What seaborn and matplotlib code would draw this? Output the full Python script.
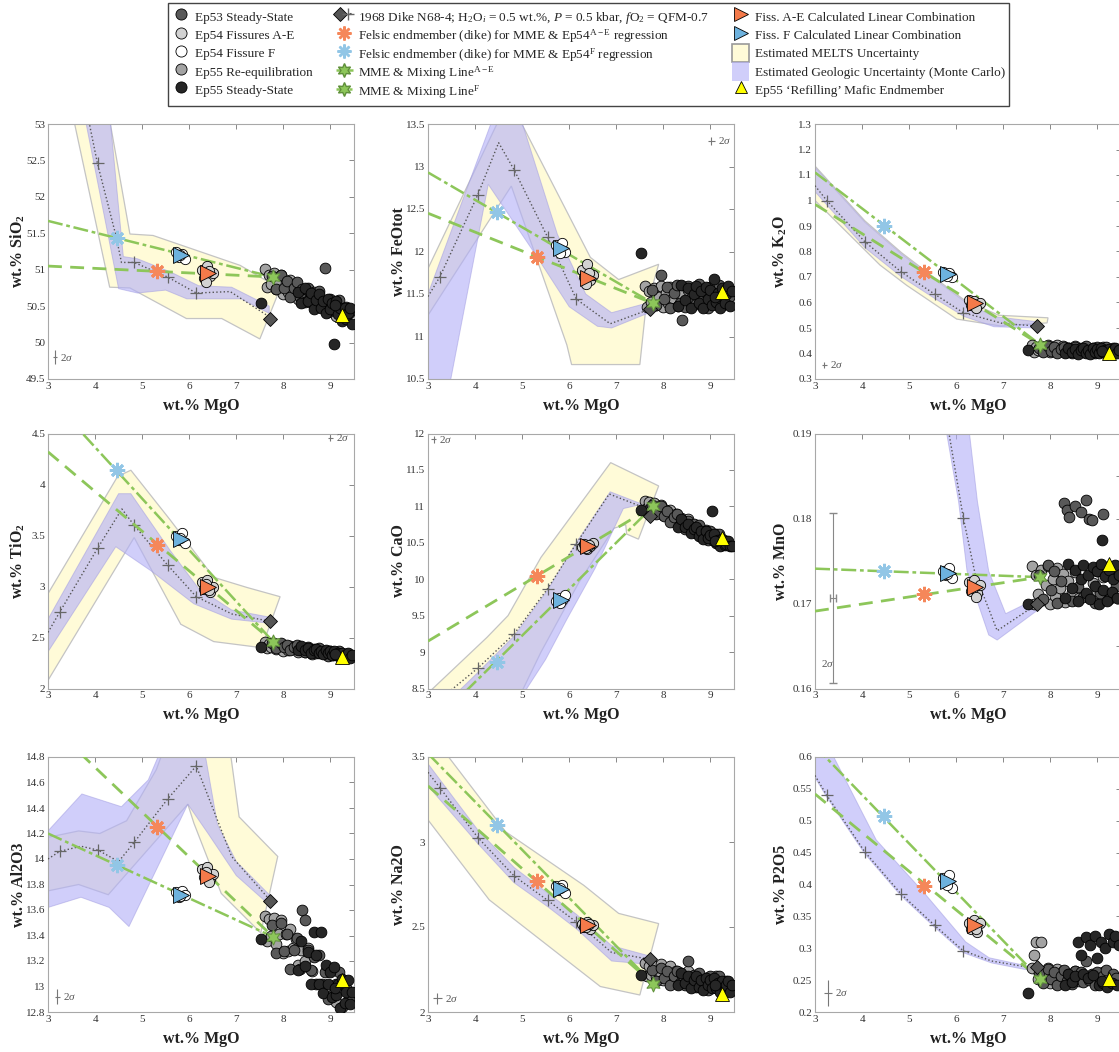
import matplotlib
matplotlib.use("Agg")
import matplotlib.pyplot as plt
from matplotlib.lines import Line2D
from matplotlib.patches import Patch
from matplotlib.legend_handler import HandlerTuple
from matplotlib.ticker import FuncFormatter
import seaborn as sns

# ---------------- panels ----------------
oxides = ["SiO2", "FeOtot", "K2O", "TiO2", "CaO", "MnO", "Al2O3", "Na2O", "P2O5"]
ylabels = [r"wt.% SiO$_\mathbf{2}$", "wt.% FeOtot", r"wt.% K$_\mathbf{2}$O",
           r"wt.% TiO$_\mathbf{2}$", "wt.% CaO", "wt.% MnO",
           "wt.% Al2O3", "wt.% Na2O", "wt.% P2O5"]
ylims = [(49.5, 53), (10.5, 13.5), (0.3, 1.3), (2, 4.5), (8.5, 12), (0.16, 0.19),
         (12.8, 14.8), (2, 3.5), (0.2, 0.6)]
ysteps = [0.5, 0.5, 0.1, 0.5, 0.5, 0.005, 0.2, 0.5, 0.05]
mgo_ticks = [3, 4, 5, 6, 7, 8, 9]

# ---------------- sample MgO (wt.%) ----------------
ep55r_mgo = [7.62, 7.66, 7.70, 7.74, 7.80, 7.84, 7.90, 7.95, 8.00, 8.05, 8.10, 8.15, 8.20, 8.26,
             8.32, 8.38, 8.45, 8.52, 8.60, 8.90, 9.00, 9.12]
ep53_mgo = [7.75, 7.85, 7.95, 8.02, 8.08, 8.15, 8.22, 8.28, 8.35, 8.40, 8.46, 8.52, 8.58, 8.64,
            8.70, 8.76, 8.82, 8.88, 8.94, 9.00, 9.06, 9.12, 9.18, 9.25, 9.32, 9.40]
ep55s_mgo = [7.52, 8.30, 8.38, 8.45, 8.52, 8.58, 8.64, 8.70, 8.76, 8.80, 8.85, 8.90, 8.95, 9.00,
             9.03, 9.08, 9.12, 9.16, 9.20, 9.25, 9.30, 9.34, 9.38, 9.42, 9.45, 9.10]
ep54ae_mgo = [6.27, 6.32, 6.38, 6.45, 6.5, 6.35, 6.42]
ep54f_mgo = [5.72, 5.78, 5.85, 5.9, 5.8]

# ---------------- sample oxides ----------------
ep55r = {
    "SiO2": [51.01, 50.76, 50.93, 50.80, 50.95, 50.74, 50.82, 50.93, 50.67, 50.82, 50.70, 50.86, 50.72, 50.79,
             50.60, 50.71, 50.62, 50.73, 50.55, 50.56, 50.48, 50.36],
    "FeOtot": [11.59, 11.35, 11.53, 11.41, 11.57, 11.37, 11.47, 11.59, 11.35, 11.51, 11.40, 11.58, 11.45, 11.54,
               11.36, 11.49, 11.42, 11.55, 11.39, 11.48, 11.43, 11.52],
    "K2O": [0.433, 0.407, 0.427, 0.414, 0.430, 0.410, 0.420, 0.433, 0.407, 0.424, 0.412, 0.432, 0.417, 0.428,
            0.408, 0.423, 0.415, 0.429, 0.411, 0.421, 0.416, 0.425],
    "TiO2": [2.46, 2.40, 2.435, 2.405, 2.444, 2.386, 2.41, 2.44, 2.37, 2.41, 2.382, 2.417, 2.384, 2.408,
             2.353, 2.386, 2.358, 2.391, 2.339, 2.343, 2.331, 2.342],
    "CaO": [11.08, 10.98, 11.06, 10.99, 11.05, 10.94, 10.97, 11.02, 10.88, 10.95, 10.87, 10.95, 10.87, 10.90,
            10.79, 10.84, 10.79, 10.82, 10.72, 10.68, 10.62, 10.62],
    "MnO": [0.1744, 0.1700, 0.1733, 0.1711, 0.1740, 0.1704, 0.1722, 0.1744, 0.1700, 0.1729, 0.1709, 0.1742,
            0.1718, 0.1735, 0.1702, 0.1726, 0.1713, 0.1737, 0.1707, 0.1724, 0.1715, 0.1731],
    "Al2O3": [13.55, 13.36, 13.53, 13.40, 13.54, 13.33, 13.41, 13.52, 13.26, 13.41, 13.28, 13.45, 13.30, 13.37,
              13.17, 13.29, 13.20, 13.30, 13.12, 13.12, 12.92, 12.88],
    "Na2O": [2.29, 2.21, 2.27, 2.22, 2.27, 2.21, 2.24, 2.28, 2.19, 2.24, 2.21, 2.27, 2.22, 2.24,
             2.18, 2.23, 2.20, 2.24, 2.18, 2.20, 2.18, 2.21],
    "P2O5": [0.269, 0.29, 0.31, 0.251, 0.31, 0.247, 0.257, 0.269, 0.245, 0.261, 0.250, 0.268, 0.255, 0.264,
             0.246, 0.259, 0.252, 0.265, 0.249, 0.258, 0.253, 0.262],
}
ep53 = {
    "SiO2": [50.92, 50.73, 50.93, 50.75, 50.85, 50.63, 50.75, 50.83, 50.63, 50.73, 50.56, 50.75, 50.62, 50.69,
             50.52, 50.71, 50.52, 51.02, 50.42, 50.60, 50.45, 50.51, 50.58, 50.35, 50.49, 50.40],
    "FeOtot": [11.55, 11.37, 11.72, 11.44, 11.58, 11.34, 11.51, 11.61, 11.40, 11.20, 11.35, 11.59, 11.45, 11.56,
               11.38, 11.62, 11.42, 11.52, 11.34, 11.58, 11.41, 11.51, 11.61, 11.37, 11.54, 11.47],
    "K2O": [0.422, 0.405, 0.428, 0.411, 0.424, 0.402, 0.418, 0.427, 0.407, 0.420, 0.403, 0.425, 0.412, 0.423,
            0.406, 0.428, 0.410, 0.419, 0.402, 0.424, 0.408, 0.418, 0.427, 0.405, 0.420, 0.414],
    "TiO2": [2.445, 2.40, 2.447, 2.404, 2.43, 2.374, 2.406, 2.423, 2.373, 2.40, 2.357, 2.404, 2.37, 2.39,
             2.347, 2.395, 2.349, 2.366, 2.323, 2.37, 2.33, 2.347, 2.364, 2.309, 2.34, 2.32],
    "CaO": [11.02, 10.89, 11.0, 10.87, 10.94, 10.78, 10.85, 10.89, 10.75, 10.81, 10.69, 10.80, 10.71, 10.76,
            10.63, 10.75, 10.62, 10.66, 10.54, 10.66, 10.54, 10.58, 10.62, 10.47, 10.53, 10.47],
    "MnO": [0.1734, 0.1705, 0.1745, 0.1716, 0.1738, 0.1701, 0.1727, 0.1818, 0.1810, 0.1802, 0.1703, 0.1815,
            0.1719, 0.1808, 0.1708, 0.1822, 0.1800, 0.1798, 0.1701, 0.1738, 0.1712, 0.1805, 0.1743, 0.1705,
            0.1732, 0.1721],
    "Al2O3": [13.48, 13.26, 13.50, 13.28, 13.41, 13.14, 13.29, 13.38, 13.14, 13.60, 13.52, 13.29, 13.13, 13.23,
              13.02, 13.25, 13.02, 13.11, 12.90, 13.14, 12.94, 13.02, 13.11, 12.84, 12.99, 12.90],
    "Na2O": [2.25, 2.18, 2.26, 2.20, 2.24, 2.16, 2.21, 2.24, 2.17, 2.22, 2.16, 2.30, 2.18, 2.22,
             2.15, 2.23, 2.16, 2.19, 2.13, 2.21, 2.15, 2.18, 2.21, 2.13, 2.18, 2.15],
    "P2O5": [0.261, 0.245, 0.267, 0.251, 0.263, 0.243, 0.257, 0.266, 0.248, 0.260, 0.244, 0.265, 0.253, 0.262,
             0.247, 0.280, 0.250, 0.259, 0.243, 0.263, 0.249, 0.257, 0.266, 0.245, 0.260, 0.254],
}
ep55s = {
    "SiO2": [50.54, 50.69, 50.55, 50.75, 50.57, 50.68, 50.46, 50.58, 50.66, 50.47, 50.57, 50.40, 50.60, 50.46,
             50.54, 49.98, 50.57, 50.39, 50.47, 50.30, 50.48, 50.33, 50.40, 50.48, 50.26, 50.51],
    "FeOtot": [11.98, 11.36, 11.61, 11.43, 11.57, 11.33, 11.50, 11.60, 11.39, 11.53, 11.34, 11.58, 11.44, 11.55,
               11.37, 11.68, 11.41, 11.51, 11.33, 11.57, 11.40, 11.50, 11.60, 11.36, 11.53, 11.46],
    "K2O": [0.415, 0.400, 0.423, 0.406, 0.419, 0.397, 0.413, 0.422, 0.402, 0.415, 0.398, 0.420, 0.407, 0.418,
            0.401, 0.423, 0.405, 0.414, 0.397, 0.419, 0.403, 0.413, 0.422, 0.400, 0.415, 0.409],
    "TiO2": [2.41, 2.375, 2.414, 2.377, 2.398, 2.351, 2.377, 2.391, 2.35, 2.372, 2.336, 2.376, 2.347, 2.364,
             2.329, 2.369, 2.331, 2.347, 2.311, 2.351, 2.317, 2.332, 2.347, 2.302, 2.33, 2.339],
    "CaO": [10.95, 10.72, 10.83, 10.72, 10.76, 10.63, 10.69, 10.72, 10.60, 10.66, 10.55, 10.66, 10.57, 10.61,
            10.93, 10.62, 10.50, 10.54, 10.46, 10.55, 10.47, 10.48, 10.52, 10.46, 10.46, 10.53],
    "MnO": [0.1700, 0.1707, 0.1747, 0.1718, 0.1740, 0.1703, 0.1729, 0.1745, 0.1712, 0.1734, 0.1705, 0.1743,
            0.1721, 0.1738, 0.1700, 0.1747, 0.1716, 0.1732, 0.1703, 0.1740, 0.1714, 0.1729, 0.1745, 0.1707,
            0.1734, 0.1775],
    "Al2O3": [13.37, 13.13, 13.36, 13.16, 13.27, 13.02, 13.43, 13.25, 13.02, 13.43, 12.95, 13.17, 13.02, 13.11,
              12.92, 13.15, 12.93, 13.02, 12.83, 13.06, 12.87, 12.96, 13.05, 12.86, 12.96, 12.99],
    "Na2O": [2.22, 2.16, 2.23, 2.17, 2.21, 2.14, 2.19, 2.21, 2.15, 2.19, 2.13, 2.20, 2.16, 2.19,
             2.14, 2.20, 2.14, 2.17, 2.12, 2.18, 2.13, 2.16, 2.18, 2.12, 2.16, 2.16],
    "P2O5": [0.23, 0.242, 0.26, 0.247, 0.257, 0.31, 0.29, 0.259, 0.318, 0.254, 0.305, 0.258, 0.32, 0.285,
             0.243, 0.31, 0.246, 0.30, 0.24, 0.322, 0.245, 0.31, 0.32, 0.242, 0.305, 0.249],
}
ep54ae = {
    "SiO2": [51.0, 50.88, 51.05, 50.92, 50.95, 50.83, 50.98],
    "FeOtot": [11.78, 11.7, 11.85, 11.66, 11.72, 11.62, 11.75],
    "K2O": [0.61, 0.59, 0.605, 0.585, 0.6, 0.595, 0.58],
    "TiO2": [3.04, 2.98, 3.06, 2.95, 3.0, 3.02, 2.97],
    "CaO": [10.44, 10.48, 10.42, 10.46, 10.5, 10.43, 10.47],
    "MnO": [0.1725, 0.1715, 0.1728, 0.1712, 0.1722, 0.1718, 0.1708],
    "Al2O3": [13.92, 13.86, 13.94, 13.84, 13.88, 13.9, 13.82],
    "Na2O": [2.52, 2.5, 2.53, 2.49, 2.51, 2.5, 2.52],
    "P2O5": [0.34, 0.33, 0.345, 0.325, 0.34, 0.335, 0.33],
}
ep54f = {
    "SiO2": [51.24, 51.18, 51.22, 51.15, 51.2],
    "FeOtot": [12.08, 12.02, 12.1, 12.0, 11.98],
    "K2O": [0.72, 0.71, 0.715, 0.7, 0.705],
    "TiO2": [3.5, 3.46, 3.52, 3.43, 3.48],
    "CaO": [9.7, 9.74, 9.72, 9.78, 9.68],
    "MnO": [0.1738, 0.1733, 0.1742, 0.173, 0.1735],
    "Al2O3": [13.74, 13.7, 13.75, 13.72, 13.71],
    "Na2O": [2.74, 2.72, 2.75, 2.7, 2.73],
    "P2O5": [0.41, 0.405, 0.415, 0.395, 0.4],
}

# ---------------- endmembers / model points ----------------
felsic_f_mgo, felsic_ae_mgo = 4.47, 5.32
calc_f_mgo, calc_ae_mgo = 5.82, 6.4
mme_mgo, dike_mgo, refill_mgo = 7.78, 7.71, 9.24
felsic_f = [51.43, 12.47, 0.90, 4.14, 8.87, 0.1738, 13.95, 3.098, 0.507]
felsic_ae = [50.98, 11.93, 0.72, 3.41, 10.05, 0.1711, 14.25, 2.77, 0.398]
calc_f = [51.2, 12.04, 0.713, 3.47, 9.72, 0.1736, 13.72, 2.726, 0.405]
calc_ae = [50.95, 11.69, 0.597, 3.0, 10.46, 0.1720, 13.87, 2.51, 0.336]
mme = [50.9, 11.39, 0.435, 2.46, 11.0, 0.1731, 13.39, 2.167, 0.252]
dike = [50.33, 11.32, 0.508, 2.66, 10.87, 0.1699, 13.67, 2.31, 0.27]
refill = [50.38, 11.52, 0.40, 2.31, 10.56, 0.1746, 13.05, 2.108, 0.252]
# mixing lines: value at MgO = 3 (left edge), running to the MME
mix_f_at3 = [51.67, 12.93, 1.11, 4.87, 7.95, 0.1741, 14.2, 3.52, 0.617]
mix_ae_at3 = [51.05, 12.45, 0.985, 4.32, 9.15, 0.1691, 15.07, 3.33, 0.542]

# ---------------- 1968 dike liquid line of descent ----------------
lld_mark_mgo = [3.25, 4.06, 4.83, 5.54, 6.15]
lld_x = {
    "SiO2": [3.25, 4.05, 4.45, 4.56, 4.83, 5.54, 6.15, 6.87, 7.71],
    "FeOtot": [3.0, 3.25, 4.06, 4.5, 4.83, 5.54, 6.15, 6.87, 7.71],
    "K2O": [3.0, 3.25, 4.06, 4.83, 5.54, 6.15, 7.0, 7.71],
    "TiO2": [3.0, 3.25, 4.06, 4.57, 4.83, 5.54, 6.15, 6.91, 7.71],
    "CaO": [3.25, 4.06, 4.83, 5.54, 6.15, 6.85, 7.6, 7.71],
    "MnO": [5.54, 6.15, 6.4, 6.87, 7.71],
    "Al2O3": [3.0, 3.25, 3.7, 4.06, 4.5, 4.83, 5.54, 6.15, 6.9, 7.71],
    "Na2O": [3.0, 3.25, 4.06, 4.83, 5.54, 6.15, 6.9, 7.71],
    "P2O5": [3.0, 3.25, 4.06, 4.83, 5.54, 6.15, 6.75, 7.71],
}
lld_y = {
    "SiO2": [55.0, 52.46, 51.45, 51.1, 51.1, 50.9, 50.68, 50.7, 50.35],
    "FeOtot": [11.47, 11.7, 12.67, 13.28, 12.96, 12.17, 11.44, 11.15, 11.32],
    "K2O": [1.058, 1.0, 0.838, 0.72, 0.633, 0.56, 0.517, 0.508],
    "TiO2": [2.55, 2.75, 3.38, 3.76, 3.6, 3.21, 2.9, 2.73, 2.66],
    "CaO": [8.35, 8.78, 9.25, 9.87, 10.49, 11.17, 10.98, 10.87],
    "MnO": [0.2, 0.1801, 0.1735, 0.1668, 0.1699],
    "Al2O3": [14.0, 14.06, 14.1, 14.07, 13.98, 14.13, 14.47, 14.73, 14.02, 13.68],
    "Na2O": [3.41, 3.32, 3.026, 2.80, 2.657, 2.53, 2.35, 2.31],
    "P2O5": [0.571, 0.54, 0.451, 0.385, 0.336, 0.296, 0.28, 0.268],
}
lld_marks = {
    "SiO2": [55.0, 52.46, 51.1, 50.9, 50.68],
    "FeOtot": [11.7, 12.67, 12.96, 12.17, 11.44],
    "K2O": [1.0, 0.838, 0.72, 0.633, 0.56],
    "TiO2": [2.75, 3.38, 3.6, 3.21, 2.9],
    "CaO": [8.35, 8.78, 9.25, 9.87, 10.49],
    "MnO": [0.26, 0.235, 0.215, 0.2, 0.1801],
    "Al2O3": [14.06, 14.07, 14.13, 14.47, 14.73],
    "Na2O": [3.32, 3.026, 2.80, 2.657, 2.53],
    "P2O5": [0.54, 0.451, 0.385, 0.336, 0.296],
}

# ---------------- uncertainty envelopes (outline vertices) ----------------
melts_x = {
    "SiO2": [3.5, 4.31, 4.74, 5.94, 6.69, 7.5, 7.93, 7.08, 5.23, 4.74, 4.27],
    "FeOtot": [3.0, 4.55, 4.9, 6.45, 7.05, 7.9, 7.62, 7.5, 6.05, 5.95, 4.77, 3.0],
    "K2O": [3.0, 4.06, 4.84, 5.55, 6.17, 6.9, 7.95, 7.93, 6.94, 6.01, 4.95, 4.38, 3.0],
    "TiO2": [3.0, 4.48, 4.76, 5.6, 6.52, 7.23, 7.93, 7.54, 6.52, 5.82, 4.83, 3.0],
    "CaO": [2.94, 4.25, 4.7, 5.4, 6.88, 7.9, 7.47, 7.22, 7.2, 6.95, 6.2, 5.4, 4.95],
    "Al2O3": [3.0, 3.65, 4.1, 4.67, 5.3, 5.5, 6.85, 7.06, 7.88, 7.52, 6.68, 6.1, 5.97, 4.28, 3.65, 3.0],
    "Na2O": [3.0, 3.3, 4.65, 6.31, 7.05, 7.9, 7.5, 6.66, 4.3, 3.0],
}
melts_y = {
    "SiO2": [53.2, 50.76, 50.75, 50.33, 50.33, 50.05, 50.74, 51.06, 51.47, 51.49, 53.2],
    "FeOtot": [11.8, 13.6, 13.6, 11.93, 11.67, 11.85, 11.3, 10.67, 10.67, 10.9, 12.77, 11.25],
    "K2O": [1.135, 0.92, 0.795, 0.695, 0.61, 0.55, 0.54, 0.52, 0.508, 0.535, 0.667, 0.747, 1.0],
    "TiO2": [2.93, 4.08, 4.14, 3.65, 3.09, 2.99, 2.9, 2.4, 2.46, 2.63, 3.48, 2.08],
    "CaO": [8.4, 9.2, 9.5, 10.3, 11.6, 11.28, 10.55, 10.62, 10.75, 10.7, 9.95, 9.0, 8.4],
    "Al2O3": [14.17, 14.22, 14.2, 14.3, 14.7, 14.9, 14.9, 14.33, 14.02, 13.42, 13.73, 14.28, 14.43, 13.72, 13.8, 13.75],
    "Na2O": [3.55, 3.55, 3.06, 2.745, 2.58, 2.52, 2.1, 2.15, 2.66, 3.13],
}
mc_x = {
    "SiO2": [3.75, 4.5, 4.9, 5.5, 5.95, 7.1, 7.7, 7.7, 6.9, 6.2, 5.6, 4.9, 4.6, 4.3],
    "FeOtot": [3.0, 3.45, 4.28, 5.3, 6.0, 6.6, 6.9, 7.7, 7.7, 6.9, 6.35, 5.75, 4.95, 4.4, 3.0],
    "K2O": [3.0, 4.06, 4.84, 5.55, 6.17, 6.8, 7.7, 7.7, 6.8, 6.17, 5.55, 4.84, 4.06, 3.0],
    "TiO2": [3.0, 3.0, 4.5, 4.76, 5.6, 6.2, 6.9, 7.7, 7.7, 6.9, 6.1, 5.2, 4.44],
    "CaO": [3.55, 4.06, 4.83, 5.54, 6.15, 6.87, 7.55, 7.15, 6.55, 5.95, 5.5, 5.0],
    "MnO": [5.75, 6.05, 6.23, 6.69, 6.87, 7.75, 7.75, 7.05, 6.69, 6.45, 6.25],
    "Al2O3": [3.0, 3.0, 3.72, 4.56, 5.13, 5.45, 6.3, 6.6, 7.0, 7.7, 7.7, 7.0, 6.4, 5.97, 4.72, 4.3, 3.7],
    "Na2O": [3.0, 4.06, 4.83, 5.54, 6.15, 6.9, 7.7, 7.7, 6.9, 6.15, 5.54, 4.83, 4.06, 3.0],
    "P2O5": [3.0, 3.26, 4.3, 5.34, 6.2, 6.7, 7.65, 7.65, 6.75, 6.15, 5.54, 4.83, 4.06, 3.25, 3.0],
}
mc_y = {
    "SiO2": [53.2, 50.74, 50.68, 50.72, 50.6, 50.6, 50.4, 50.5, 50.76, 50.78, 50.97, 51.15, 51.18, 53.2],
    "FeOtot": [10.4, 10.4, 12.79, 11.95, 11.35, 11.12, 11.1, 11.28, 11.4, 11.28, 11.5, 12.2, 13.6, 13.6, 11.5],
    "K2O": [1.13, 0.915, 0.79, 0.69, 0.605, 0.545, 0.525, 0.5, 0.505, 0.545, 0.615, 0.7, 0.815, 1.035],
    "TiO2": [2.36, 2.68, 3.91, 3.91, 3.35, 2.98, 2.77, 2.7, 2.64, 2.68, 2.83, 3.15, 3.39],
    "CaO": [8.4, 8.72, 9.22, 9.85, 10.5, 11.2, 11.03, 10.97, 10.15, 9.45, 8.9, 8.4],
    "MnO": [0.1915, 0.182, 0.1738, 0.1663, 0.1657, 0.1693, 0.1707, 0.1688, 0.1738, 0.182, 0.1915],
    "Al2O3": [13.62, 14.22, 14.51, 14.41, 14.62, 14.9, 14.9, 14.27, 13.98, 13.72, 13.64, 13.87, 14.2, 14.43, 13.47, 13.62, 13.7],
    "Na2O": [3.46, 3.07, 2.85, 2.7, 2.575, 2.39, 2.33, 2.28, 2.3, 2.49, 2.62, 2.76, 2.99, 3.33],
    "P2O5": [0.62, 0.62, 0.47, 0.385, 0.31, 0.285, 0.27, 0.264, 0.277, 0.293, 0.333, 0.382, 0.448, 0.537, 0.568],
}

# 2-sigma analytical error crosses: (MgO, oxide, MgO err, oxide err)
sigma = {
    "SiO2": (3.15, 49.8, 0.05, 0.1),
    "FeOtot": (9.02, 13.3, 0.08, 0.05),
    "K2O": (3.2, 0.355, 0.06, 0.01),
    "TiO2": (9.0, 4.46, 0.06, 0.03),
    "CaO": (3.12, 11.92, 0.06, 0.05),
    "MnO": (3.38, 0.1706, 0.07, 0.01),
    "Al2O3": (3.2, 12.92, 0.05, 0.06),
    "Na2O": (3.2, 2.08, 0.1, 0.03),
    "P2O5": (3.28, 0.23, 0.08, 0.02),
}

# ---------------- colours ----------------
c_ep53, c_ep54ae, c_ep54f, c_ep55r, c_ep55s = "#595959", "#d2d2d2", "#ffffff", "#a3a3a3", "#262626"
c_orange, c_orange_tri = "#f5875a", "#f47a4a"
c_blue, c_blue_tri = "#92c6e6", "#6db2de"
c_green, c_green_edge = "#8dc65a", "#5f8f3a"
c_yellow, c_yellow_edge = "#fffbd8", "#c4c4c4"
c_purple = (0.70, 0.69, 0.97, 0.62)
c_purple_edge = (0.62, 0.60, 0.88, 0.5)
c_lld = "#555555"
STAR = (6, 1, 0)
AST = (8, 2, 0)

sns.set_theme(style="white")
plt.rcParams["font.family"] = ["Liberation Serif", "DejaVu Serif"]
plt.rcParams["mathtext.fontset"] = "custom"
plt.rcParams["mathtext.rm"] = "Liberation Serif"
plt.rcParams["mathtext.it"] = "Liberation Serif:italic"
plt.rcParams["mathtext.bf"] = "Liberation Serif:bold"

W, H = 1119, 1052
fig = plt.figure(figsize=(W / 100, H / 100), dpi=100)

col_left = [48, 428, 815]
row_top = [124, 433.5, 757]
ax_w, ax_h = 306, 255
ylab_x = [-0.07, -0.07, -0.085]

for i, ox in enumerate(oxides):
    r, c = divmod(i, 3)
    ax = fig.add_axes([col_left[c] / W, 1 - (row_top[r] + ax_h) / H, ax_w / W, ax_h / H])

    # uncertainty envelopes
    if ox in melts_x:
        ax.fill(melts_x[ox], melts_y[ox], facecolor=c_yellow, edgecolor=c_yellow_edge, lw=0.9, zorder=1)
    ax.fill(mc_x[ox], mc_y[ox], facecolor=c_purple, edgecolor=c_purple_edge, lw=0.7, zorder=2)

    # liquid line of descent
    ax.plot(lld_x[ox], lld_y[ox], ls=":", color=c_lld, lw=1.0, zorder=3)
    ax.plot(lld_mark_mgo, lld_marks[ox], ls="none", marker="+", ms=9, mew=0.9, color="#666666", zorder=3)

    # mixing lines
    ax.plot([3, mme_mgo], [mix_ae_at3[i], mme[i]], ls=(0, (5, 3)), color=c_green, lw=2.0, zorder=4)
    ax.plot([3, mme_mgo], [mix_f_at3[i], mme[i]], ls=(0, (6, 1.5, 1.5, 1.5)), color=c_green, lw=1.8, zorder=4)

    # eruption samples
    for mg, vals, col in [(ep55r_mgo, ep55r, c_ep55r), (ep53_mgo, ep53, c_ep53), (ep55s_mgo, ep55s, c_ep55s)]:
        sns.scatterplot(x=mg, y=vals[ox], color=col, edgecolor="black", linewidth=0.6, s=60, ax=ax, zorder=5, legend=False)
    sns.scatterplot(x=ep54ae_mgo, y=ep54ae[ox], color=c_ep54ae, edgecolor="black", linewidth=0.6, s=55, ax=ax, zorder=6, legend=False)
    sns.scatterplot(x=ep54f_mgo, y=ep54f[ox], color=c_ep54f, edgecolor="black", linewidth=0.6, s=55, ax=ax, zorder=6, legend=False)

    # endmembers
    ax.plot(felsic_f_mgo, felsic_f[i], marker=AST, ms=11, mew=2.0, color=c_blue, ls="none", zorder=7)
    ax.plot(felsic_ae_mgo, felsic_ae[i], marker=AST, ms=11, mew=2.0, color=c_orange, ls="none", zorder=7)
    ax.plot(calc_f_mgo, calc_f[i], marker=">", ms=11, mfc=c_blue_tri, mec="black", mew=0.6, ls="none", zorder=8)
    ax.plot(calc_ae_mgo, calc_ae[i], marker=">", ms=11, mfc=c_orange_tri, mec="black", mew=0.6, ls="none", zorder=8)
    ax.plot(dike_mgo, dike[i], marker="D", ms=7.5, mfc="#555555", mec="black", mew=0.6, ls="none", zorder=8)
    ax.plot(mme_mgo, mme[i], marker=STAR, ms=11, mfc=c_green, mec=c_green_edge, mew=0.7, ls="none", zorder=9)
    ax.plot(refill_mgo, refill[i], marker="^", ms=10, mfc="#ffff00", mec="black", mew=0.6, ls="none", zorder=9)

    # 2 sigma
    sx, sy, ex, ey = sigma[ox]
    if ox == "MnO":
        ax.errorbar(sx, sy, xerr=ex, yerr=ey, fmt="none", ecolor="#888888", elinewidth=0.8, capsize=3, zorder=3)
        ax.text(3.12, 0.1625, r"$2\sigma$", fontsize=8, color="#555555")
    else:
        ax.errorbar(sx, sy, xerr=ex, yerr=ey, fmt="none", ecolor="#777777", elinewidth=0.8, zorder=3)
        ax.text(sx + ex + 0.06, sy, r"$2\sigma$", fontsize=8, color="#555555", va="center")

    # axes cosmetics
    lo, hi = ylims[i]
    ax.set_xlim(3, 9.5)
    ax.set_ylim(lo, hi)
    ax.set_xticks(mgo_ticks)
    n = int(round((hi - lo) / ysteps[i]))
    yt = [lo + k * ysteps[i] for k in range(n + 1)]
    ax.set_yticks(yt)
    if ox == "MnO":
        ax.set_yticklabels([f"{v:g}" if k % 2 == 0 else "" for k, v in enumerate(yt)])
    else:
        ax.yaxis.set_major_formatter(FuncFormatter(lambda v, p: f"{round(v, 4):g}"))
    ax.tick_params(direction="in", top=True, right=True, length=3.5, width=0.7,
                   colors="#888888", labelcolor="#333333", labelsize=8, pad=2)
    for sp in ax.spines.values():
        sp.set_color("#a8a8a8")
        sp.set_linewidth(0.8)
    ax.set_xlabel("wt.% MgO", fontsize=11.5, fontweight="bold", color="#222222", labelpad=5)
    ax.set_ylabel(ylabels[i], fontsize=11.5, fontweight="bold", color="#222222")
    ax.yaxis.set_label_coords(ylab_x[c], 0.5)

# ---------------- legend ----------------
def dot(col):
    return Line2D([], [], ls="none", marker="o", ms=8, mfc=col, mec="black", mew=0.6)

handles = [
    dot(c_ep53), dot(c_ep54ae), dot(c_ep54f), dot(c_ep55r), dot(c_ep55s),
    (Line2D([], [], ls="none", marker="D", ms=7, mfc="#555555", mec="black", mew=0.6),
     Line2D([], [], ls=":", color=c_lld, marker="+", ms=8, mec="#666666")),
    Line2D([], [], ls="none", marker=AST, ms=10, mew=1.8, color=c_orange),
    Line2D([], [], ls="none", marker=AST, ms=10, mew=1.8, color=c_blue),
    Line2D([], [], ls=(0, (3, 2)), lw=1.8, color=c_green, marker=STAR, ms=10, mfc=c_green, mec=c_green_edge),
    Line2D([], [], ls=(0, (4, 1.2, 1.2, 1.2)), lw=1.8, color=c_green, marker=STAR, ms=10, mfc=c_green, mec=c_green_edge),
    Line2D([], [], ls="none", marker=">", ms=10, mfc=c_orange_tri, mec="black", mew=0.6),
    Line2D([], [], ls="none", marker=">", ms=10, mfc=c_blue_tri, mec="black", mew=0.6),
    Patch(facecolor=c_yellow, edgecolor="#999999", lw=1.2),
    Patch(facecolor=c_purple, edgecolor="none"),
    Line2D([], [], ls="none", marker="^", ms=9, mfc="#ffff00", mec="black", mew=0.6),
]
labels = [
    "Ep53 Steady-State", "Ep54 Fissures A-E", "Ep54 Fissure F", "Ep55 Re-equilibration", "Ep55 Steady-State",
    r"1968 Dike N68-4; H$_2$O$_i$ = 0.5 wt.%, $P$ = 0.5 kbar, $f$O$_2$ = QFM-0.7",
    r"Felsic endmember (dike) for MME & Ep54$^{\mathrm{A-E}}$ regression",
    r"Felsic endmember (dike) for MME & Ep54$^{\mathrm{F}}$ regression",
    r"MME & Mixing Line$^{\mathrm{A-E}}$",
    r"MME & Mixing Line$^{\mathrm{F}}$",
    "Fiss. A-E Calculated Linear Combination", "Fiss. F Calculated Linear Combination",
    "Estimated MELTS Uncertainty", "Estimated Geologic Uncertainty (Monte Carlo)",
    "Ep55 \u2018Refilling\u2019 Mafic Endmember",
]
leg = fig.legend(handles, labels, ncol=3, loc="upper center", bbox_to_anchor=(0.526, 1 - 3 / H),
                 fontsize=9.5, frameon=True, fancybox=False, edgecolor="#444444", framealpha=1,
                 handlelength=1.3, handleheight=1.75, handletextpad=0.4, columnspacing=1.75,
                 labelspacing=0.0, borderpad=0.35, borderaxespad=0,
                 handler_map={tuple: HandlerTuple(ndivide=2, pad=0)})
leg.get_frame().set_linewidth(1.0)

fig.savefig("out.png", dpi=100)
